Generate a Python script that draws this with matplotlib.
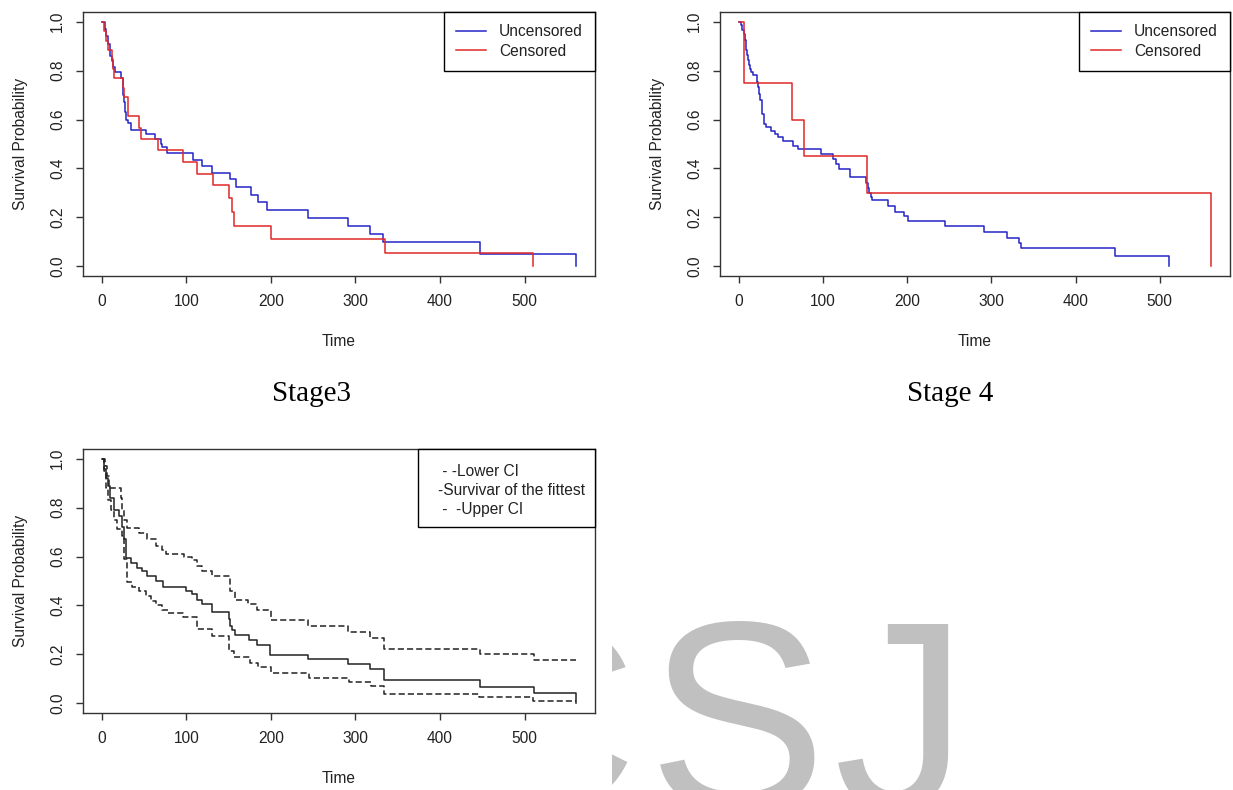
import matplotlib.pyplot as plt
from matplotlib.lines import Line2D
from matplotlib.transforms import Bbox, TransformedBbox

# Stage 3 Kaplan-Meier curves
s3_unc_time = [0, 3.5, 5, 7, 9, 10, 12, 13, 16, 22.5, 24.5, 25.5, 26.5, 27.6, 29, 30.4, 34.3, 52, 63,
               69.6, 71, 77.4, 107.8, 118.4, 130.3, 151.2, 158.7, 176.5, 184.4, 195.8, 244.4, 291.7,
               317.4, 332.8, 446.9, 561]
s3_unc_surv = [1.0, 0.97, 0.94, 0.91, 0.88, 0.86, 0.84, 0.814, 0.796, 0.77, 0.72, 0.70, 0.67, 0.63, 0.60,
               0.585, 0.559, 0.541, 0.519, 0.50, 0.486, 0.464, 0.434, 0.41, 0.381, 0.355, 0.325, 0.292,
               0.264, 0.231, 0.198, 0.165, 0.133, 0.101, 0.048, 0.0]
s3_cen_time = [0, 2, 5, 7, 12, 13, 14.6, 25, 25.7, 30.4, 43.4, 46.2, 66, 96, 112.5, 131, 150, 154,
               156.3, 200.5, 334.4, 510]
s3_cen_surv = [1.0, 0.962, 0.923, 0.885, 0.846, 0.808, 0.769, 0.731, 0.692, 0.615, 0.566, 0.519, 0.475,
               0.426, 0.377, 0.332, 0.28, 0.223, 0.166, 0.11, 0.056, 0.0]

# Stage 4 Kaplan-Meier curves
s4_unc_time = [0, 3, 4, 6, 7, 8, 9, 10, 11, 12, 13, 14, 17, 21, 22, 23, 24, 25, 27, 28, 30, 32, 38, 43,
               46, 52, 64, 70, 97, 112, 115, 119, 131.7, 151.6, 153, 155, 157, 158.3, 177, 185, 196,
               200.8, 245, 291.7, 318.3, 333.3, 335.4, 447, 510.7]
s4_unc_surv = [1.0, 0.986, 0.966, 0.952, 0.925, 0.897, 0.884, 0.863, 0.842, 0.822, 0.808, 0.795, 0.781,
               0.767, 0.753, 0.733, 0.705, 0.678, 0.651, 0.623, 0.582, 0.568, 0.555, 0.541, 0.527, 0.514,
               0.493, 0.479, 0.459, 0.438, 0.418, 0.397, 0.363, 0.342, 0.322, 0.301, 0.285, 0.27, 0.248,
               0.223, 0.204, 0.183, 0.163, 0.139, 0.116, 0.094, 0.074, 0.041, 0.0]
s4_cen_time = [0, 5.6, 63, 77.8, 152, 561]
s4_cen_surv = [1.0, 0.75, 0.6, 0.45, 0.3, 0.0]

# overall fit with confidence interval
all_time = [0, 3, 5, 6.7, 10, 14.5, 20.4, 24, 26.3, 29, 34, 42, 47.8, 53.7, 63.5, 72, 100, 106.7, 112.5,
            118.4, 130.2, 149.8, 151.8, 153.7, 157.6, 174.5, 183.3, 199, 244.4, 291.7, 317.4, 334,
            446.9, 511, 561]
all_surv = [1.0, 0.96, 0.92, 0.887, 0.84, 0.792, 0.765, 0.72, 0.67, 0.595, 0.574, 0.554, 0.54, 0.52, 0.5,
            0.477, 0.459, 0.445, 0.424, 0.404, 0.374, 0.343, 0.316, 0.30, 0.279, 0.258, 0.238, 0.199,
            0.18, 0.159, 0.139, 0.095, 0.068, 0.041, 0.0]
up_time = [0, 4, 6, 8.6, 22.4, 24, 26, 29.6, 44, 53.7, 63.5, 70.6, 75.3, 96.9, 106.7, 112.5, 118.4,
           130.2, 151.8, 157.6, 173.3, 184, 200, 244.4, 291.7, 317.4, 334, 446.9, 511, 561]
up_surv = [1.0, 0.97, 0.93, 0.88, 0.84, 0.79, 0.75, 0.717, 0.697, 0.67, 0.645, 0.628, 0.612, 0.6, 0.585,
           0.56, 0.542, 0.52, 0.459, 0.424, 0.404, 0.38, 0.34, 0.316, 0.293, 0.268, 0.223, 0.2, 0.177,
           0.177]
lo_time = [0, 3, 5, 7, 10.6, 14.5, 18, 24, 25.7, 29.6, 36, 44, 51.8, 57.6, 63.5, 71, 78.2, 96, 112.5,
           130.3, 150, 156, 175, 184.5, 200, 244.8, 292, 317.8, 333.6, 446, 510, 561]
lo_surv = [1.0, 0.95, 0.88, 0.83, 0.792, 0.75, 0.713, 0.686, 0.59, 0.495, 0.476, 0.46, 0.44, 0.42, 0.40,
           0.38, 0.368, 0.354, 0.303, 0.276, 0.215, 0.19, 0.165, 0.15, 0.122, 0.102, 0.086, 0.07, 0.037,
           0.025, 0.011, 0.011]

x_ticks = [0, 100, 200, 300, 400, 500]
y_ticks = [0.0, 0.2, 0.4, 0.6, 0.8, 1.0]
y_tick_labels = ['0.0', '0.2', '0.4', '0.6', '0.8', '1.0']
ci_labels = [' - -Lower CI', '-Survivar of the fittest', ' -  -Upper CI']

BLUE = '#2424c8'
RED = '#e02828'
INK = '#222222'
FS = 11.2

plt.rcParams['font.family'] = ['Liberation Sans', 'DejaVu Sans']
fig = plt.figure(figsize=(12.33, 7.9), dpi=100)


def km_axes(rect):
    ax = fig.add_axes(rect)
    ax.set_xlim(-22.4, 583.4)
    ax.set_ylim(-0.04, 1.04)
    ax.set_xticks(x_ticks)
    ax.set_yticks(y_ticks)
    ax.set_yticklabels(y_tick_labels)
    ax.tick_params(direction='out', length=5, width=1, pad=8, labelsize=FS,
                   colors='#333333', labelcolor=INK)
    ax.tick_params(axis='y', labelrotation=90)
    for lbl in ax.get_yticklabels():
        lbl.set_va('center')
    for sp in ax.spines.values():
        sp.set_linewidth(1.0)
        sp.set_color('#333333')
    ax.set_xlabel('Time', fontsize=FS, color=INK)
    ax.set_ylabel('Survival Probability', fontsize=FS, color=INK)
    ax.xaxis.set_label_coords(0.5, -0.218)
    ax.yaxis.set_label_coords(-0.108, 0.5)
    return ax


def km_legend(ax):
    leg = ax.legend(loc='upper right', borderaxespad=0, fancybox=False, edgecolor='black',
                    framealpha=1, fontsize=FS, handlelength=1.9, handletextpad=0.85,
                    borderpad=0.8, labelspacing=0.27)
    leg.get_frame().set_linewidth(1.0)
    for t in leg.get_texts():
        t.set_color(INK)


ax1 = km_axes([83 / 1233, 1 - 276 / 790, 512 / 1233, 264 / 790])
ax1.step(s3_unc_time, s3_unc_surv, where='post', color=BLUE, lw=1.1, label='Uncensored')
ax1.step(s3_cen_time, s3_cen_surv, where='post', color=RED, lw=1.1, label='Censored')
km_legend(ax1)

ax2 = km_axes([720 / 1233, 1 - 276 / 790, 510 / 1233, 264 / 790])
ax2.step(s4_unc_time, s4_unc_surv, where='post', color=BLUE, lw=1.1, label='Uncensored')
ax2.step(s4_cen_time, s4_cen_surv, where='post', color=RED, lw=1.1, label='Censored')
km_legend(ax2)

ax3 = km_axes([83 / 1233, 1 - 713 / 790, 512 / 1233, 264 / 790])
ax3.step(lo_time, lo_surv, where='post', color=INK, lw=1.1, linestyle=(0, (4, 2)))
ax3.step(all_time, all_surv, where='post', color=INK, lw=1.1)
ax3.step(up_time, up_surv, where='post', color=INK, lw=1.1, linestyle=(0, (4, 2)))
blank = [Line2D([], [], linestyle='none') for _ in ci_labels]
leg3 = ax3.legend(blank, ci_labels, loc='upper right', borderaxespad=0, fancybox=False,
                  edgecolor='black', framealpha=1, fontsize=FS, handlelength=0.65,
                  handletextpad=0.0, borderpad=0.65, labelspacing=0.25,
                  title=' ', title_fontsize=1)
leg3.get_frame().set_linewidth(1.0)
for t in leg3.get_texts():
    t.set_color(INK)

# captions under the top panels
fig.text(311 / 1233, 1 - 394 / 790, 'Stage3', ha='center', va='center', fontsize=21,
         family='Liberation Serif', color='black')
fig.text(950 / 1233, 1 - 394 / 790, 'Stage 4', ha='center', va='center', fontsize=21,
         family='Liberation Serif', color='black')

# grey watermark letters, the first one hidden behind the page on its left
wm_base = (790 - 808) / 790
wm_clip = TransformedBbox(Bbox([[612 / 1233, 0], [1, 1]]), fig.transFigure)
for ch, px in [('C', 443), ('S', 648), ('J', 834)]:
    t = fig.text(px / 1233, wm_base, ch, ha='left', va='baseline', fontsize=193,
                 color='#c0c0c0', family='Liberation Sans', zorder=-2)
    t.set_clip_box(wm_clip)

fig.savefig('out.png', dpi=100)
